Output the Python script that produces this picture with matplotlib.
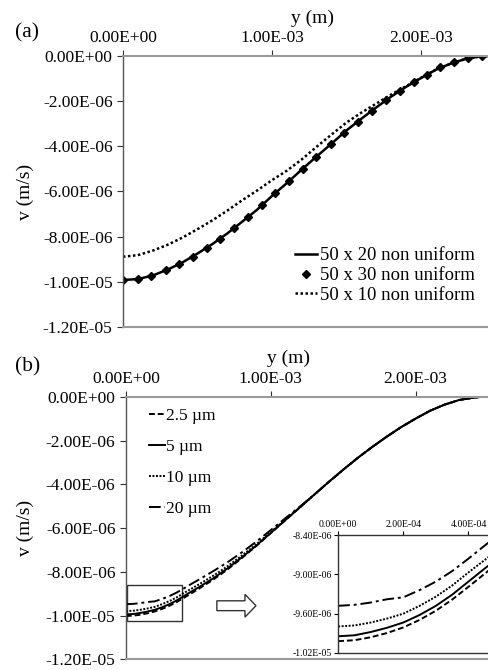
import matplotlib.pyplot as plt
import numpy as np
from matplotlib.ticker import FuncFormatter, MultipleLocator
from matplotlib.patches import Rectangle, FancyArrow

plt.rcParams['font.family'] = ['Liberation Serif', 'DejaVu Serif']

# ---- panel (a): grid study (y in mm, v in 1e-6 m/s) ----
y_a = [0, 0.1, 0.2, 0.3, 0.4, 0.5, 0.6, 0.7, 0.8, 0.9, 1.0, 1.1, 1.2, 1.3,
       1.4, 1.5, 1.6, 1.7, 1.8, 1.9, 2.0, 2.1, 2.2, 2.3, 2.4, 2.45]
v_50x20 = [-9.92, -9.88, -9.72, -9.46, -9.14, -8.75, -8.33, -7.86, -7.34, -6.81,
           -6.20, -5.63, -5.03, -4.45, -3.88, -3.30, -2.78, -2.28, -1.80, -1.37,
           -0.98, -0.61, -0.34, -0.13, -0.02, 0.0]
v_50x10 = [-8.89, -8.82, -8.62, -8.36, -8.04, -7.67, -7.28, -6.85, -6.39, -5.96,
           -5.50, -5.08, -4.58, -4.02, -3.48, -2.95, -2.51, -2.11, -1.71, -1.34,
           -0.97, -0.61, -0.34, -0.13, -0.02, 0.0]
y_50x30 = [0, 0.099, 0.19, 0.29, 0.377, 0.467, 0.561, 0.651, 0.745, 0.837, 0.930,
           1.02, 1.114, 1.206, 1.295, 1.394, 1.483, 1.575, 1.669, 1.765, 1.859,
           1.955, 2.038, 2.131, 2.223, 2.317, 2.407]
v_50x30 = [-9.92, -9.89, -9.74, -9.49, -9.22, -8.89, -8.51, -8.10, -7.63, -7.14,
           -6.61, -6.08, -5.55, -4.99, -4.48, -3.91, -3.39, -2.91, -2.44, -1.95,
           -1.54, -1.14, -0.84, -0.50, -0.29, -0.10, 0.0]

# ---- panel (b): particle size study ----
y_b = [0, 0.05, 0.1, 0.15, 0.2, 0.25, 0.3, 0.35, 0.4, 0.45, 0.5, 0.6, 0.7, 0.8,
       0.9, 1.0, 1.1, 1.2, 1.3, 1.4, 1.5, 1.6, 1.7, 1.8, 1.9, 2.0, 2.1, 2.2,
       2.3, 2.4, 2.45]
tail = [-4.47, -3.89, -3.33, -2.79, -2.29, -1.82, -1.38, -0.99, -0.63, -0.35,
        -0.14, -0.03, 0.0]
v_2p5 = [-10.02, -10.005, -9.96, -9.895, -9.81, -9.695, -9.555, -9.385, -9.19,
         -8.99, -8.79, -8.37, -7.90, -7.37, -6.82, -6.23, -5.64, -5.06] + tail
v_5 = [-9.945, -9.93, -9.88, -9.815, -9.735, -9.62, -9.48, -9.31, -9.11,
       -8.91, -8.72, -8.31, -7.85, -7.34, -6.80, -6.22, -5.64, -5.06] + tail
v_10 = [-9.795, -9.78, -9.735, -9.675, -9.60, -9.48, -9.34, -9.17, -8.97,
        -8.78, -8.59, -8.19, -7.75, -7.26, -6.74, -6.18, -5.61, -5.05] + tail
v_20 = [-9.48, -9.465, -9.43, -9.38, -9.35, -9.24, -9.11, -8.95, -8.76,
        -8.56, -8.37, -7.98, -7.57, -7.11, -6.62, -6.09, -5.55, -5.02] + tail
labels_b = ['2.5 µm', '5 µm', '10 µm', '20 µm']
styles_b = [(0, (3, 1.5)), '-', (0, (1, 0.8)), (0, (6, 2, 1.5, 2))]


def sci(v, pos):
    if abs(v) < 1e-20:
        return '0.00E+00'
    return f'{v:.2E}'


def style_axes(ax, xmax, fs=12.5):
    ax.set_xlim(0, xmax)
    ax.set_ylim(-1.2e-5, 0)
    ax.xaxis.set_major_locator(MultipleLocator(1e-3))
    ax.yaxis.set_major_locator(MultipleLocator(2e-6))
    ax.xaxis.set_major_formatter(FuncFormatter(sci))
    ax.yaxis.set_major_formatter(FuncFormatter(sci))
    ax.xaxis.tick_top()
    ax.tick_params(labelsize=fs, direction='out', length=4, width=0.8,
                   colors='#333333', labelcolor='black')
    ax.spines['right'].set_visible(False)
    ax.spines['top'].set_color('#999999')
    ax.spines['bottom'].set_color('#999999')
    ax.spines['left'].set_color('#555555')
    ax.spines['top'].set_linewidth(1.5)
    ax.spines['bottom'].set_linewidth(1.5)
    ax.spines['left'].set_linewidth(1.0)


fig = plt.figure(figsize=(4.88, 6.70), dpi=100)

# ---------------- (a) ----------------
ax1 = fig.add_axes([0.252, 0.512, 0.748, 0.4045])
ya = np.array(y_a) * 1e-3
ax1.plot(ya, np.array(v_50x20) * 1e-6, color='black', lw=1.8, label='50 x 20 non uniform')
ax1.plot(np.array(y_50x30) * 1e-3, np.array(v_50x30) * 1e-6, ls='none', marker='D',
         ms=4, color='black', label='50 x 30 non uniform')
ax1.plot(ya, np.array(v_50x10) * 1e-6, color='black', lw=1.8, ls=(0, (1, 1)),
         label='50 x 10 non uniform')
style_axes(ax1, 2.45e-3)
ax1.set_xlabel('y (m)', fontsize=14)
ax1.xaxis.set_label_position('top')
ax1.xaxis.set_label_coords(0.52, 1.12)
ax1.set_ylabel('v (m/s)', fontsize=14)
ax1.yaxis.set_label_coords(-0.245, 0.5)
ax1.legend(loc='lower right', bbox_to_anchor=(0.99, 0.05), frameon=False, fontsize=13.5,
           handlelength=1.2, handletextpad=0.15, labelspacing=0.15, borderpad=0)
fig.text(0.03, 0.951, '(a)', fontsize=15.5, va='center')

# ---------------- (b) ----------------
ax2 = fig.add_axes([0.258, 0.016, 0.742, 0.3915])
yb = np.array(y_b) * 1e-3
series_b = [v_2p5, v_5, v_10, v_20]
for vals, lab, ls in zip(series_b, labels_b, styles_b):
    ax2.plot(yb, np.array(vals) * 1e-6, color='black', lw=1.4, ls=ls, label=lab)
style_axes(ax2, 2.5e-3)
ax2.set_xlabel('y (m)', fontsize=14)
ax2.xaxis.set_label_position('top')
ax2.xaxis.set_label_coords(0.45, 1.13)
ax2.set_ylabel('v (m/s)', fontsize=14)
ax2.yaxis.set_label_coords(-0.255, 0.5)
ax2.legend(loc='upper left', bbox_to_anchor=(0.04, 0.99), frameon=False, fontsize=12.5,
           handlelength=0.9, handletextpad=0.05, labelspacing=0.85, borderpad=0)
fig.text(0.03, 0.453, '(b)', fontsize=15.5, va='center')

# zoom box and arrow
ax2.add_patch(Rectangle((0.005e-3, -1.023e-5), 0.385e-3, 0.163e-5, fill=False,
                        ec='#333333', lw=1.0))
ax2.add_patch(FancyArrow(0.628e-3, -9.55e-6, 0.27e-3, 0, width=0.45e-6,
                         head_width=1.04e-6, head_length=0.076e-3,
                         length_includes_head=True, fc='white', ec='#333333', lw=1.0))

# inset
ax3 = fig.add_axes([0.693, 0.0254, 0.307, 0.176])
for vals, ls in zip(series_b, styles_b):
    ax3.plot(yb, np.array(vals) * 1e-6, color='black', lw=1.4, ls=ls)
ax3.set_xlim(0, 4.6e-4)
ax3.set_ylim(-1.02e-5, -8.4e-6)
ax3.set_xticks([0, 2e-4, 4e-4])
ax3.set_yticks([-8.4e-6, -9.0e-6, -9.6e-6, -1.02e-5])
ax3.xaxis.set_major_formatter(FuncFormatter(sci))
ax3.yaxis.set_major_formatter(FuncFormatter(sci))
ax3.xaxis.tick_top()
ax3.tick_params(labelsize=7, direction='out', length=3, width=0.8, pad=1.5)
ax3.spines['right'].set_visible(False)
for s in ['top', 'left', 'bottom']:
    ax3.spines[s].set_color('#333333')
    ax3.spines[s].set_linewidth(1.0)

fig.savefig('out.png', dpi=100)
